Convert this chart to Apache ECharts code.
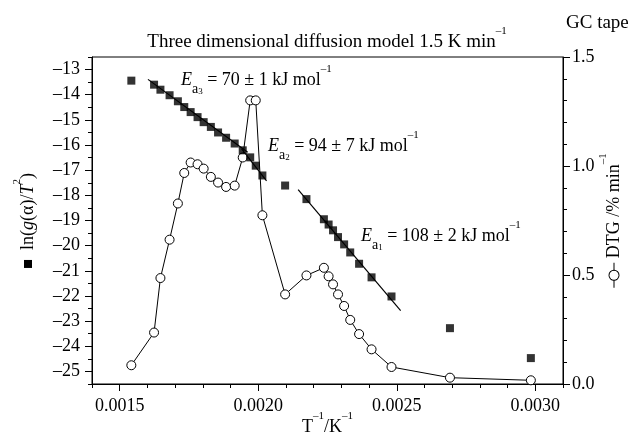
<!DOCTYPE html>
<html>
<head>
<meta charset="utf-8">
<script src="https://cdn.jsdelivr.net/npm/echarts@6/dist/echarts.min.js"></script>
<style>html,body{margin:0;padding:0;background:#fff}#c{width:632px;height:439px}</style>
</head>
<body>
<div id="c"></div>
<script>
// ---- data ----
const T_INV = [0.001542, 0.001624, 0.001647, 0.001680, 0.001710, 0.001733, 0.001756, 0.001781, 0.001803, 0.001829,
  0.001855, 0.001884, 0.001915, 0.001944, 0.001971, 0.001991, 0.002015, 0.002097, 0.002174, 0.002237,
  0.002254, 0.002270, 0.002288, 0.002310, 0.002332, 0.002364, 0.002409, 0.002481, 0.002692, 0.002984];
const LN_G = [-13.44, -13.60, -13.80, -14.02, -14.26, -14.49, -14.69, -14.89, -15.09, -15.28,
  -15.50, -15.71, -15.94, -16.21, -16.49, -16.82, -17.21, -17.61, -18.15, -18.95,
  -19.16, -19.39, -19.66, -19.95, -20.27, -20.72, -21.26, -22.02, -23.28, -24.47];
const DTG = [0.086, 0.236, 0.486, 0.662, 0.828, 0.968, 1.016, 1.008, 0.988, 0.950,
  0.924, 0.904, 0.910, 1.039, 1.301, 1.301, 0.774, 0.411, 0.498, 0.533,
  0.494, 0.457, 0.411, 0.358, 0.294, 0.229, 0.159, 0.078, 0.029, 0.017];
const FIT_EA3_X = [0.001602, 0.001962], FIT_EA3_Y = [-13.39, -16.29];
const FIT_EA2_X = [0.00194, 0.00203],   FIT_EA2_Y = [-16.15, -17.42];
const FIT_EA1_X = [0.002144, 0.002514], FIT_EA1_Y = [-17.77, -22.58];
const X_TICKS = [0.0015, 0.0020, 0.0025, 0.0030];
const YL_TICKS = [-25, -24, -23, -22, -21, -20, -19, -18, -17, -16, -15, -14, -13];
const YR_TICKS = [0, 0.5, 1.0, 1.5];

const FONT = '"Liberation Serif", "DejaVu Serif", serif';
const zip = (xs, ys) => xs.map((x, i) => [x, ys[i]]);
function mkRich(fs) {
  return {
    n:   {fontFamily: FONT, fontSize: fs, lineHeight: 32, verticalAlign: 'middle', color: '#000'},
    i:   {fontFamily: FONT, fontSize: fs, fontStyle: 'italic', lineHeight: 32, verticalAlign: 'middle', color: '#000'},
    sup: {fontFamily: FONT, fontSize: 11, lineHeight: 23, verticalAlign: 'top', color: '#000'},
    sub: {fontFamily: FONT, fontSize: 14, lineHeight: 15, verticalAlign: 'bottom', color: '#000'},
    ss:  {fontFamily: FONT, fontSize: 9, lineHeight: 7, verticalAlign: 'bottom', color: '#000'},
    sq:  {width: 8, height: 8, backgroundColor: '#000', verticalAlign: 'middle'},
    sp:  {width: 10, height: 2},
    ln:  {width: 8, height: 1, backgroundColor: '#000', verticalAlign: 'middle'},
    ci:  {width: 9, height: 9, borderColor: '#000', borderWidth: 1, borderRadius: 5, backgroundColor: '#fff', verticalAlign: 'middle'}
  };
}
const rich = mkRich(18);
const richTitle = mkRich(19);
const black = {color: '#000'};

const chart = echarts.init(document.getElementById('c'), null, {renderer: 'canvas'});
chart.setOption({
  backgroundColor: '#fff',
  animation: false,
  grid: {left: 92, right: 69, top: 57, bottom: 55, containLabel: false, outerBoundsMode: 'none',
         show: true, borderColor: '#000', borderWidth: 1, backgroundColor: 'transparent'},
  graphic: [
    {type: 'text', x: 327, y: 42, silent: true, style: {
      text: '{n|Three dimensional diffusion model 1.5 K min}{sup|–1}', rich: richTitle, align: 'center', verticalAlign: 'middle'}},
    {type: 'text', x: 566, y: 23, silent: true, style: {
      text: '{n|GC tape}', rich: richTitle, align: 'left', verticalAlign: 'middle'}},
    {type: 'text', x: 181, y: 80, silent: true, style: {
      text: '{i|E}{sub|a}{ss|3}{n| = 70 ± 1 kJ mol}{sup|–1}', rich: rich, align: 'left', verticalAlign: 'middle'}},
    {type: 'text', x: 268, y: 146, silent: true, style: {
      text: '{i|E}{sub|a}{ss|2}{n| = 94 ± 7 kJ mol}{sup|–1}', rich: rich, align: 'left', verticalAlign: 'middle'}},
    {type: 'text', x: 361, y: 236, silent: true, style: {
      text: '{i|E}{sub|a}{ss|1}{n| = 108 ± 2 kJ mol}{sup|–1}', rich: rich, align: 'left', verticalAlign: 'middle'}}
  ],
  xAxis: [
    {type: 'value', min: 0.0014, max: 0.0031, position: 'bottom',
     axisLine: {lineStyle: black}, splitLine: {show: false},
     axisTick: {customValues: X_TICKS, length: 7, lineStyle: black},
     axisLabel: {customValues: X_TICKS, formatter: v => v.toFixed(4), fontFamily: FONT, fontSize: 18, color: '#000', margin: 13},
     name: '{n|T}{sup|–1}{n|/K}{sup|–1}', nameLocation: 'middle', nameGap: 27, nameMoveOverlap: false,
     nameTextStyle: {rich: rich}},
    {type: 'value', min: 0.0014, max: 0.0031, interval: 0.0001, position: 'bottom',
     axisLine: {show: false}, splitLine: {show: false},
     axisTick: {length: 4, lineStyle: black}, axisLabel: {show: false}}
  ],
  yAxis: [
    {type: 'value', min: -25.5, max: -12.5, position: 'left',
     axisLine: {show: true, lineStyle: black}, splitLine: {show: false},
     axisTick: {customValues: YL_TICKS, length: 7, lineStyle: black},
     axisLabel: {customValues: YL_TICKS, formatter: v => '–' + Math.abs(v), fontFamily: FONT, fontSize: 18, color: '#000', margin: 12},
     name: '{sq| }{sp| }{n|ln(}{i|g}{n|(α)/}{i|T}{sup|2}{n|)}', nameLocation: 'middle', nameRotate: 90, nameGap: 48,
     nameMoveOverlap: false, nameTextStyle: {rich: rich}},
    {type: 'value', min: -25.5, max: -12.5, interval: 0.5, position: 'left',
     axisLine: {show: false}, splitLine: {show: false},
     axisTick: {length: 4, lineStyle: black}, axisLabel: {show: false}},
    {type: 'value', min: 0, max: 1.5, position: 'right',
     axisLine: {show: true, lineStyle: black}, splitLine: {show: false},
     axisTick: {customValues: YR_TICKS, length: 7, lineStyle: black},
     axisLabel: {customValues: YR_TICKS, formatter: v => v.toFixed(1), fontFamily: FONT, fontSize: 18, color: '#000', margin: 9},
     name: '{ln| }{ci| }{ln| }{n| DTG /% min}{sup|–1}', nameLocation: 'middle', nameRotate: 90, nameGap: 35,
     nameMoveOverlap: false, nameTextStyle: {rich: rich}},
    {type: 'value', min: 0, max: 1.5, interval: 0.1, position: 'right',
     axisLine: {show: false}, splitLine: {show: false},
     axisTick: {length: 4, lineStyle: black}, axisLabel: {show: false}}
  ],
  series: [
    {type: 'line', xAxisIndex: 0, yAxisIndex: 0, data: zip(FIT_EA3_X, FIT_EA3_Y), showSymbol: false, symbol: 'none',
     lineStyle: {color: '#000', width: 1.2}, z: 1, silent: true},
    {type: 'line', xAxisIndex: 0, yAxisIndex: 0, data: zip(FIT_EA2_X, FIT_EA2_Y), showSymbol: false, symbol: 'none',
     lineStyle: {color: '#000', width: 1.2}, z: 1, silent: true},
    {type: 'line', xAxisIndex: 0, yAxisIndex: 0, data: zip(FIT_EA1_X, FIT_EA1_Y), showSymbol: false, symbol: 'none',
     lineStyle: {color: '#000', width: 1.2}, z: 1, silent: true},
    {type: 'line', xAxisIndex: 0, yAxisIndex: 2, data: zip(T_INV, DTG), symbol: 'circle', symbolSize: 9,
     itemStyle: {color: '#fff', borderColor: '#000', borderWidth: 1}, lineStyle: {color: '#000', width: 1}, z: 2},
    {type: 'scatter', xAxisIndex: 0, yAxisIndex: 0, data: zip(T_INV, LN_G), symbol: 'rect', symbolSize: 8,
     itemStyle: {color: '#000'}, z: 3}
  ]
});
</script>
</body>
</html>
